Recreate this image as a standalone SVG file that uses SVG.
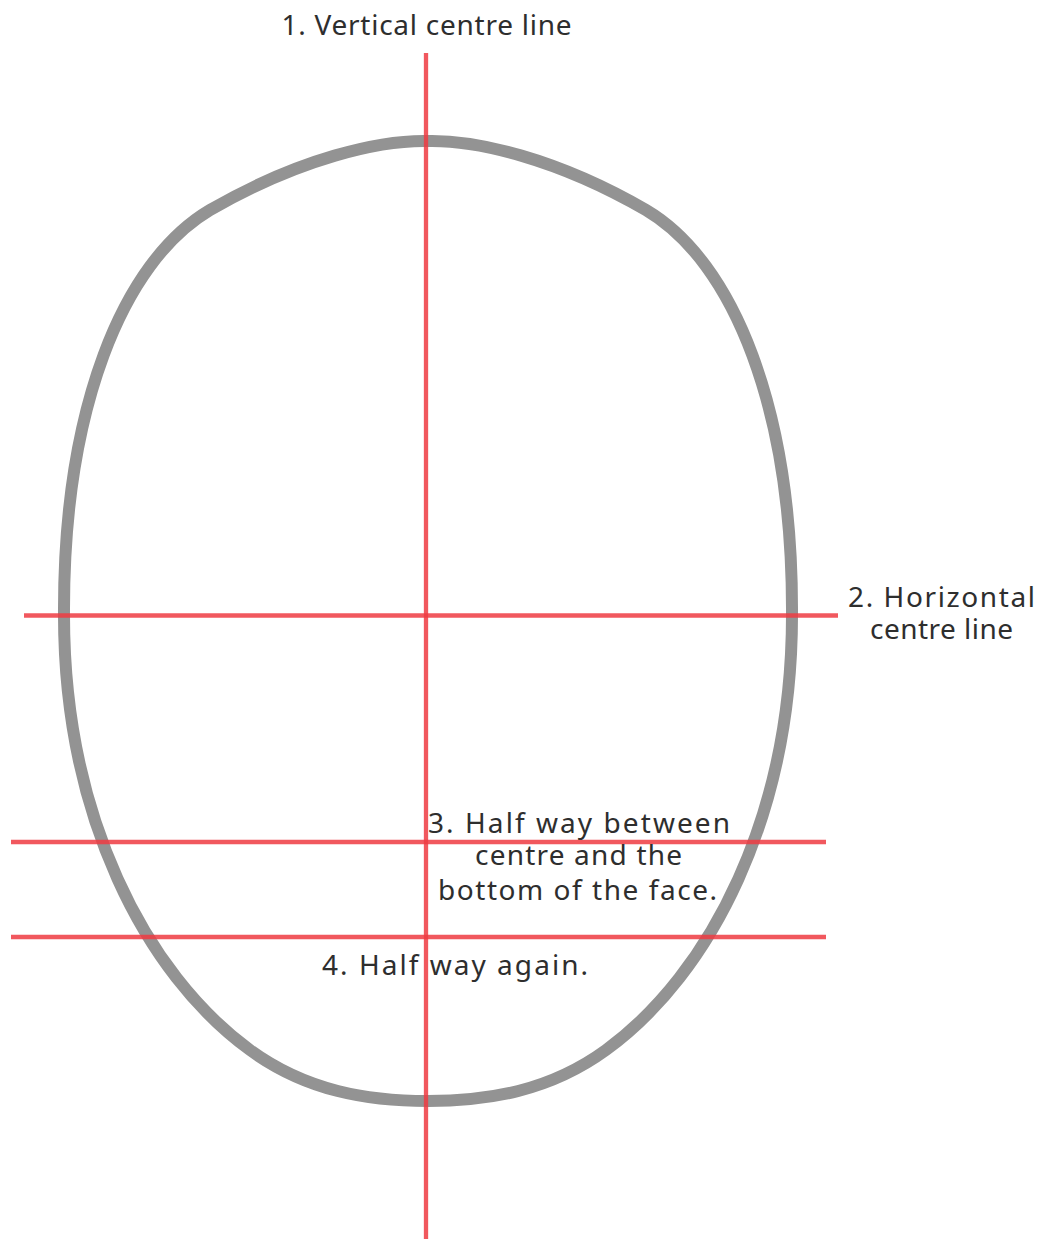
<svg xmlns="http://www.w3.org/2000/svg" width="1050" height="1239" viewBox="0 0 1050 1239">
<style>
.head{fill:none;stroke:#939393;stroke-width:12;stroke-linejoin:round}
.guide{stroke:#ee3b42;stroke-opacity:0.85;stroke-width:4.3;fill:none}
.lbl{font-family:"Noto Sans","Open Sans",sans-serif;font-size:28px;fill:#2e2e2e;text-anchor:middle}
</style>
<rect width="1050" height="1239" fill="#ffffff"/>
<g id="head-outline">
<path class="head" d="M 428,141 C 380,140 300,158 210,210 C 122,262 63,410 64,615 C 64,815 144.7,973.3 250,1050 C 306.7,1091.3 368,1101 428,1101 C 488,1101 549.3,1091.3 606,1050 C 711.3,973.3 792,815 792,615 C 793,410 734,262 646,210 C 556,158 476,140 428,141 Z"/>
</g>
<g id="connectors">
<line id="vertical-centre" class="guide" x1="426" y1="53" x2="426" y2="1239"/>
<line id="horizontal-centre" class="guide" x1="24" y1="615.5" x2="838" y2="615.5"/>
<line id="half-way" class="guide" x1="11" y1="842" x2="826" y2="842"/>
<line id="half-way-again" class="guide" x1="11" y1="937" x2="826" y2="937"/>
</g>
<g id="label-1">
<text class="lbl" x="426.5" y="35" textLength="290" lengthAdjust="spacing">1. Vertical centre line</text>
</g>
<g id="label-2">
<text class="lbl" x="941.5" y="606.5" textLength="187" lengthAdjust="spacing">2. Horizontal</text>
<text class="lbl" x="941.5" y="639" textLength="143" lengthAdjust="spacing">centre line</text>
</g>
<g id="label-3">
<text class="lbl" x="579" y="833" textLength="302" lengthAdjust="spacing">3. Half way between</text>
<text class="lbl" x="578.5" y="865" textLength="207" lengthAdjust="spacing">centre and the</text>
<text class="lbl" x="577.5" y="900" textLength="279" lengthAdjust="spacing">bottom of the face.</text>
</g>
<g id="label-4">
<text class="lbl" x="455" y="975" textLength="266" lengthAdjust="spacing">4. Half way again.</text>
</g>
</svg>
